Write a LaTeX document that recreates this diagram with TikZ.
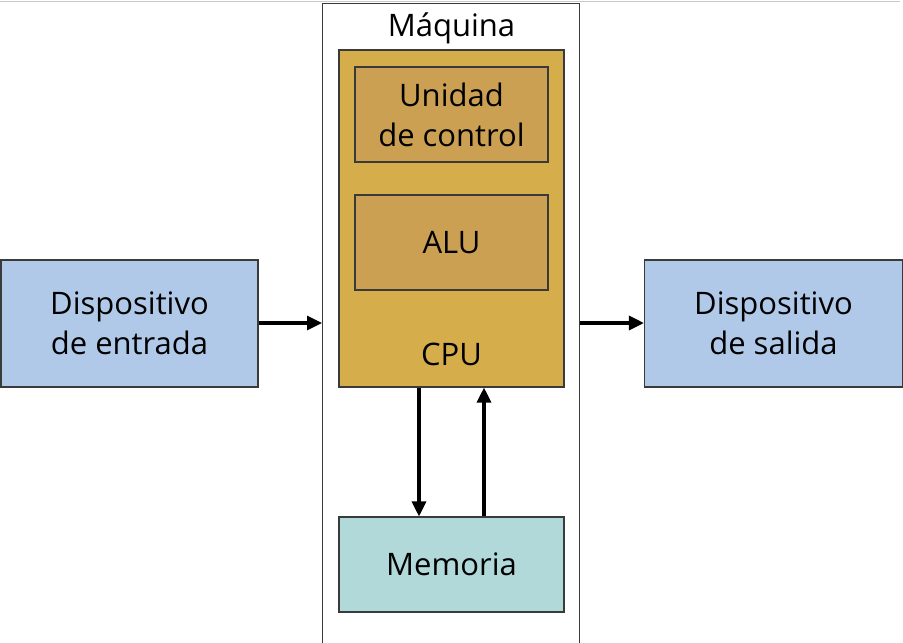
\documentclass[tikz,border=0pt]{standalone}
\usepackage{fontspec}
\setmainfont{Open Sans}
\usetikzlibrary{arrows.meta}
\definecolor{iobox}{HTML}{B1C9E8}
\definecolor{cpubox}{HTML}{D5AD4B}
\definecolor{innerbox}{HTML}{CBA052}
\definecolor{membox}{HTML}{B1D9D9}
\definecolor{edge}{HTML}{3A3A3A}
\tikzset{
  blk/.style={draw=edge, line width=1.1pt, inner sep=0pt, align=center,
    font=\fontsize{31}{40}\selectfont},
  lbl/.style={inner sep=0pt, font=\fontsize{31}{40}\selectfont},
  flow/.style={line width=3.2pt, -{Triangle[length=15pt,width=14pt]}}
}
\begin{document}
\begin{tikzpicture}[x=1pt,y=-1pt]
\useasboundingbox (0,0) rectangle (903,643);
\clip (0,0) rectangle (903,643);
\fill[white] (0,0) rectangle (903,643);
\draw[line width=1.4pt, draw={rgb,255:red,200;green,200;blue,200}] (0,1.2) -- (900,1.2);
\node[draw=edge, line width=1.1pt, minimum width=257pt, minimum height=700pt, inner sep=0pt, anchor=north west] (maquina) at (322,3) {};
\node[lbl, anchor=base] (mlabel) at (451.5,36) {Máquina};
\node[blk, fill=cpubox, minimum width=225pt, minimum height=337pt] (cpu) at (451.5,218.5) {};
\node[blk, fill=innerbox, minimum width=193pt, minimum height=95pt] (uc) at (451.5,114.5) {Unidad\\de control};
\node[blk, fill=innerbox, minimum width=193pt, minimum height=95pt] (alu) at (451.5,242.5) {ALU};
\node[lbl, anchor=base] (cpulabel) at (451.5,365) {CPU};
\node[blk, fill=membox, minimum width=225pt, minimum height=95pt] (mem) at (451.5,564.5) {Memoria};
\node[blk, fill=iobox, minimum width=257pt, minimum height=127pt] (entrada) at (129.5,323.5) {Dispositivo\\de entrada};
\node[blk, fill=iobox, minimum width=258pt, minimum height=127pt] (salida) at (773.5,323.5) {Dispositivo\\de salida};
\draw[flow] ([yshift=0.5pt]entrada.east) -- ([yshift=0.5pt]entrada.east -| maquina.west);
\draw[flow] ([yshift=0.5pt]salida.west -| maquina.east) -- ([yshift=0.5pt]salida.west);
\draw[flow] ([xshift=-32.5pt]cpu.south) -- ([xshift=-32.5pt]mem.north);
\draw[flow] ([xshift=32.5pt]mem.north) -- ([xshift=32.5pt]cpu.south);
\end{tikzpicture}
\end{document}
